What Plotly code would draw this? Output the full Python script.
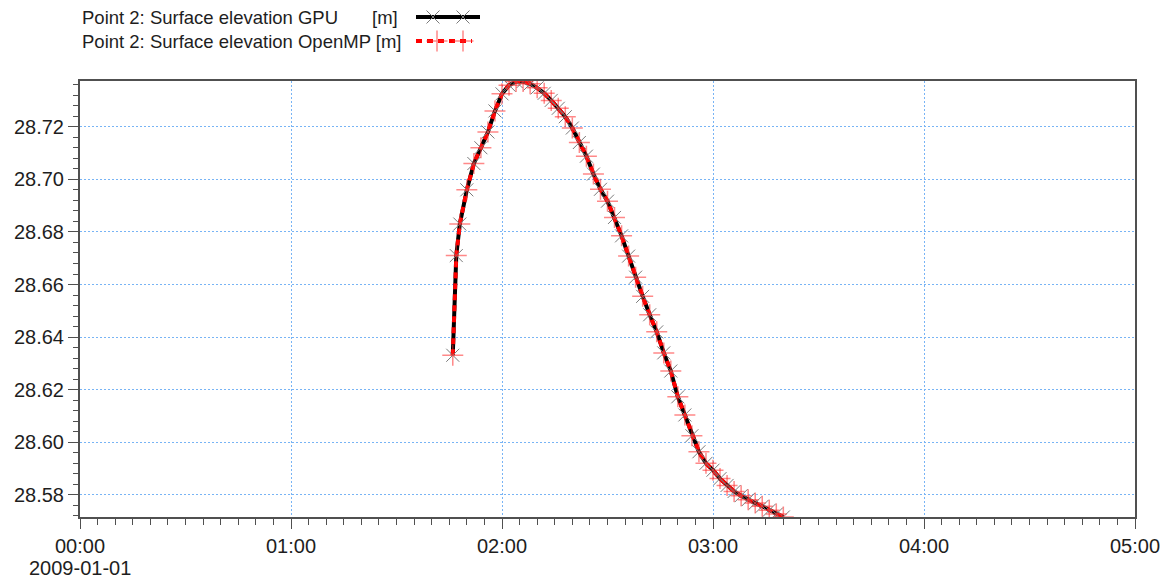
import pandas as pd
import plotly.graph_objects as go

# ---------------- data ----------------
start_date = "2009-01-01"
minutes = [106, 107, 108, 110, 112, 114, 116, 118, 120, 122, 124, 126, 128, 130,
           132, 134, 136, 138, 140, 142, 144, 146, 148, 150, 152, 154, 156, 158,
           160, 162, 164, 166, 168, 170, 172, 174, 176, 178, 180, 182, 184, 186,
           188, 190, 192, 194, 196, 198, 200]
gpu = [28.6331, 28.6710, 28.6830, 28.6960, 28.7060, 28.7120, 28.7180, 28.7260,
       28.7325, 28.7358, 28.7372, 28.7372, 28.7363, 28.7348, 28.7327, 28.7300,
       28.7270, 28.7238, 28.7195, 28.7140, 28.7088, 28.7020, 28.6962, 28.6917,
       28.6855, 28.6785, 28.6708, 28.6628, 28.6555, 28.6485, 28.6420, 28.6340,
       28.6271, 28.6173, 28.6104, 28.6025, 28.5964, 28.5920, 28.5894, 28.5862,
       28.5836, 28.5813, 28.5797, 28.5782, 28.5769, 28.5757, 28.5742, 28.5727,
       28.5716]
openmp = [28.6331, 28.6710, 28.6830, 28.6960, 28.7060, 28.7120, 28.7180, 28.7260,
          28.7325, 28.7358, 28.7372, 28.7372, 28.7363, 28.7348, 28.7327, 28.7300,
          28.7270, 28.7238, 28.7195, 28.7140, 28.7088, 28.7020, 28.6962, 28.6917,
          28.6855, 28.6785, 28.6708, 28.6628, 28.6555, 28.6485, 28.6420, 28.6340,
          28.6271, 28.6173, 28.6104, 28.6025, 28.5964, 28.5920, 28.5894, 28.5862,
          28.5836, 28.5813, 28.5797, 28.5782, 28.5769, 28.5757, 28.5742, 28.5727,
          28.5716]
series_names = ["Point 2: Surface elevation GPU", "Point 2: Surface elevation OpenMP"]
unit_label = "[m]"
y_range = [28.5716, 28.7375]
hours_shown = 5

# ---------------- styles ----------------
FONT = "Liberation Sans, Arial, sans-serif"
TXT = "#1e1e1e"
AX = "#505050"
GRID = "#78b4f5"
W, H = 1170, 580
ML, MR, MT, MB = 80, 35, 0, 63
plot_h = H - MT - MB
top_px = 80.7
main_top = (plot_h - top_px) / plot_h

gpu_line = dict(color="black", width=4)
gpu_marker = dict(symbol="x-thin", size=13, line=dict(color="#7a7a7a", width=1))
omp_line = dict(color="#ff0000", width=4, dash="6px,5px")
omp_marker = dict(symbol="cross-thin", size=15, line=dict(color="rgba(255,40,40,0.55)", width=1.5))

t0 = pd.Timestamp(start_date)
t = t0 + pd.to_timedelta(minutes, unit="min")

fig = go.Figure()
fig.add_trace(go.Scatter(x=t, y=gpu, mode="lines", line=gpu_line, showlegend=False))
fig.add_trace(go.Scatter(x=t, y=openmp, mode="lines", line=omp_line, showlegend=False))
fig.add_trace(go.Scatter(x=t, y=gpu, mode="markers", marker=gpu_marker, showlegend=False))
fig.add_trace(go.Scatter(x=t, y=openmp, mode="markers", marker=omp_marker, showlegend=False))

# legend samples on a hidden pixel-like axis pair at the top
leg_y = [17, 41]
fig.add_trace(go.Scatter(x=[416, 480], y=[leg_y[0]] * 2, mode="lines", line=gpu_line,
                         xaxis="x2", yaxis="y2", showlegend=False, hoverinfo="skip"))
fig.add_trace(go.Scatter(x=[433, 463], y=[leg_y[0]] * 2, mode="markers", marker=gpu_marker,
                         xaxis="x2", yaxis="y2", showlegend=False, hoverinfo="skip"))
fig.add_trace(go.Scatter(x=[416, 472], y=[leg_y[1]] * 2, mode="lines", line=omp_line,
                         xaxis="x2", yaxis="y2", showlegend=False, hoverinfo="skip"))
fig.add_trace(go.Scatter(x=[437, 463], y=[leg_y[1]] * 2, mode="markers", marker=omp_marker,
                         xaxis="x2", yaxis="y2", showlegend=False, hoverinfo="skip"))

leg_font = dict(family=FONT, size=18.5, color=TXT)
annotations = [
    dict(text=series_names[0], x=80, y=leg_y[0], xref="x2", yref="y2",
         xanchor="left", yanchor="middle", showarrow=False, font=leg_font),
    dict(text=unit_label, x=400, y=leg_y[0], xref="x2", yref="y2",
         xanchor="right", yanchor="middle", showarrow=False, font=leg_font),
    dict(text=series_names[1] + " " + unit_label, x=80, y=leg_y[1], xref="x2", yref="y2",
         xanchor="left", yanchor="middle", showarrow=False, font=leg_font),
    dict(text=start_date, x=t0, y=-51 / plot_h, xref="x", yref="paper",
         xanchor="center", yanchor="middle", showarrow=False,
         font=dict(family=FONT, size=20, color=TXT)),
]

tickfont = dict(family=FONT, size=20, color=TXT)
common = dict(showline=True, linecolor=AX, linewidth=2, mirror=True,
              ticks="outside", ticklen=10, tickwidth=1, tickcolor=AX,
              showgrid=True, gridcolor=GRID, gridwidth=1, griddash="2px,2px",
              zeroline=False, tickfont=tickfont)

fig.update_layout(
    width=W, height=H, autosize=False,
    margin=dict(l=ML, r=MR, t=MT, b=MB, pad=0),
    paper_bgcolor="white", plot_bgcolor="white",
    font=dict(family=FONT, color=TXT),
    xaxis=dict(type="date", range=[t0, t0 + pd.Timedelta(hours=hours_shown)],
               dtick=3600000, tick0=t0, tickformat="%H:%M",
               minor=dict(dtick=300000, ticks="outside", ticklen=6, tickcolor=AX, showgrid=False),
               anchor="y", **common),
    yaxis=dict(range=y_range, domain=[0, main_top], tick0=28.58, dtick=0.02, tickformat=".2f",
               minor=dict(dtick=0.004, ticks="outside", ticklen=5, tickcolor=AX, showgrid=False),
               anchor="x", **common),
    xaxis2=dict(range=[ML, W - MR], domain=[0, 1], anchor="y2", visible=False, fixedrange=True),
    yaxis2=dict(range=[top_px, 0], domain=[main_top, 1], anchor="x2", visible=False, fixedrange=True),
    annotations=annotations,
)

fig.write_html("out.html")
